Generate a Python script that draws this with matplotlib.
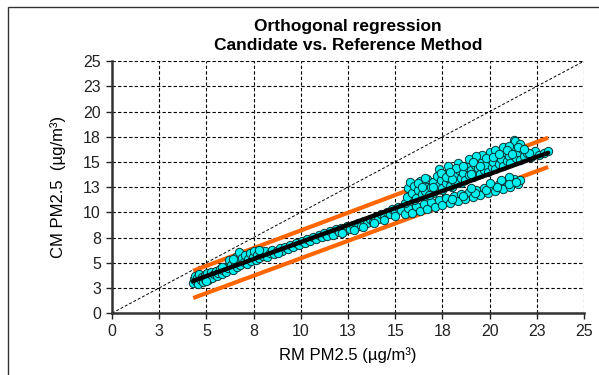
# -*- coding: utf-8 -*-
# Orthogonal regression plot: candidate method vs. reference method (PM2.5)

import numpy as np
import matplotlib.pyplot as plt
from matplotlib.patches import Rectangle

# ----------------------------
# Data
# ----------------------------

# low / middle band, along the regression line
band_x = [4.3, 4.35, 4.4, 4.45, 4.5, 4.55, 4.6, 4.7, 4.75, 4.8, 4.9, 4.95, 5.0, 5.05, 5.1, 5.2, 5.25,
          5.3, 5.4, 5.5, 5.55, 5.6, 5.7, 5.8, 5.9, 6.0, 6.05, 6.15, 6.2, 6.3, 6.4, 6.5, 6.55, 6.6,
          6.7, 6.75, 6.8, 6.9, 7.0, 7.05, 7.15, 7.2, 7.3, 7.35, 7.45, 7.5, 7.6, 7.7, 7.8, 7.9, 8.0,
          8.1, 8.2, 8.35, 8.5, 8.6, 8.75, 8.9, 9.0, 9.15, 9.3, 9.45, 9.6, 9.75, 9.9, 10.05, 10.2,
          10.35, 10.5, 10.65, 10.8, 10.95, 11.1, 11.25, 11.4, 11.55, 11.7, 11.85, 12.0, 12.15, 12.3,
          12.45, 12.6, 12.75, 12.9, 13.05, 13.2, 13.35, 13.5, 13.65, 13.8, 13.95, 14.1, 14.25, 14.4,
          14.55, 14.7, 14.85, 15.0, 15.15, 15.3, 12.2, 12.8, 13.3, 13.9, 14.4, 15.0,
          5.0, 5.8, 6.4, 7.8, 8.8]
band_y = [3.0, 3.4, 3.7, 3.2, 3.5, 2.9, 3.9, 3.3, 3.6, 3.1, 3.8, 3.4, 3.6, 4.0, 3.3, 3.7, 4.1,
          3.5, 3.9, 4.2, 3.7, 4.0, 4.4, 3.9, 4.3, 4.6, 4.1, 4.5, 5.3, 4.8, 4.3, 5.0, 5.6, 4.6,
          5.2, 6.1, 4.8, 5.5, 5.1, 5.8, 4.9, 5.4, 6.0, 5.2, 5.6, 6.2, 5.3, 5.8, 5.5, 6.0, 5.7,
          6.2, 5.6, 6.0, 6.3, 5.9, 6.2, 6.5, 6.2, 6.6, 6.4, 6.8, 6.6, 7.0, 6.8, 7.2, 7.0,
          7.4, 7.2, 7.6, 7.4, 7.8, 7.6, 7.9, 7.7, 8.1, 7.8, 8.3, 8.0, 8.4, 8.1,
          8.6, 8.3, 8.7, 8.5, 8.9, 8.6, 9.1, 8.9, 9.3, 9.0, 9.5, 9.3, 9.8, 9.5,
          10.0, 9.8, 10.3, 10.0, 10.5, 10.2, 7.9, 8.2, 8.5, 8.9, 9.2, 9.6,
          3.2, 4.6, 5.4, 6.3, 6.0]

# upper branch (high concentrations)
upper_x = [15.6, 15.7, 15.8, 15.9, 16.0, 16.1, 16.2, 16.3, 16.4, 16.5, 16.6, 16.7, 16.8, 16.9, 17.0,
           17.1, 17.2, 17.3, 17.4, 17.5, 17.6, 17.7, 17.8, 17.9, 18.0, 18.1, 18.2, 18.3, 18.4, 18.5,
           18.6, 18.7, 18.8, 18.9, 19.0, 19.1, 19.2, 19.3, 19.4, 19.5, 19.6, 19.7, 19.8, 19.9, 20.0,
           20.1, 20.2, 20.3, 20.4, 20.5, 20.6, 20.7, 20.8, 20.9, 21.0, 21.1, 21.2, 21.3, 21.4, 21.5,
           21.6, 21.7, 21.8, 22.0, 22.2, 22.4, 22.6, 22.9, 23.1, 20.0, 19.6, 20.3, 17.3, 17.8, 18.3,
           18.9, 19.3, 20.7, 21.35, 21.0, 21.6, 22.1,
           16.2, 16.6, 17.0, 17.4, 17.7, 18.0, 18.2, 18.6, 19.0, 19.1, 19.5, 19.8, 20.2, 20.5, 20.9,
           21.2, 21.5, 21.8, 17.9, 16.4]
upper_y = [11.5, 12.4, 13.0, 11.9, 12.6, 11.4, 12.2, 13.1, 11.8, 12.7, 12.1, 13.3, 11.7, 12.5, 13.0,
           12.2, 13.6, 12.7, 13.2, 12.4, 13.8, 12.9, 13.4, 12.6, 14.0, 13.1, 13.7, 12.9, 14.2, 13.4,
           13.9, 13.2, 14.5, 13.7, 14.2, 13.5, 14.7, 13.9, 14.4, 13.8, 15.0, 14.2, 14.7, 14.0, 15.3,
           14.5, 15.0, 14.3, 15.6, 14.8, 15.3, 14.6, 16.0, 15.1, 15.6, 14.9, 16.4, 17.2, 15.4, 16.0,
           15.2, 16.3, 15.6, 15.9, 15.5, 16.1, 15.7, 15.9, 16.1, 16.0, 15.7, 16.2, 14.3, 14.6, 14.9,
           15.3, 15.6, 16.5, 17.1, 16.6, 16.8, 15.9,
           12.9, 13.4, 12.5, 13.9, 13.5, 13.3, 14.4, 14.6, 13.8, 15.0, 14.6, 15.4, 15.5, 15.8, 16.2,
           15.8, 16.5, 16.3, 14.0, 12.5]

# lower branch (high concentrations)
lower_x = [15.5, 15.7, 15.9, 16.1, 16.3, 16.5, 16.7, 16.9, 17.1, 17.3, 17.5, 17.7, 17.9, 18.1, 18.3,
           18.5, 18.7, 18.9, 19.1, 19.3, 19.5, 19.7, 19.9, 20.1, 20.3, 20.5, 20.7, 20.9, 21.1, 21.3,
           21.5, 21.6, 21.0, 20.6, 15.5, 16.0, 16.5, 17.0, 17.5, 18.0, 18.5,
           18.0, 18.6, 19.2, 19.8, 20.4, 21.0, 21.4, 19.0, 20.0]
lower_y = [9.8, 10.4, 9.9, 10.6, 10.1, 10.8, 10.3, 11.0, 10.5, 11.2, 10.7, 11.4, 10.9, 11.6, 11.1,
           11.8, 11.3, 12.0, 11.5, 12.2, 11.7, 12.4, 11.9, 12.6, 12.1, 12.8, 12.3, 13.0, 12.5, 13.3,
           12.8, 13.2, 13.5, 13.2, 10.9, 11.2, 11.6, 11.9, 12.2, 12.5, 12.9,
           11.3, 11.6, 11.9, 12.2, 12.5, 12.8, 13.0, 12.4, 12.9]

# regression line and its bounds (end points)
fit_x = [4.3, 23.1]
fit_y = [3.2, 15.9]
upper_bound_y = [4.2, 17.4]
lower_bound_y = [1.5, 14.5]

# axes
ticks = [0, 2.5, 5, 7.5, 10, 12.5, 15, 17.5, 20, 22.5, 25]
tick_labels = ["0", "3", "5", "8", "10", "13", "15", "18", "20", "23", "25"]

# ----------------------------
# Plot
# ----------------------------

plt.rcParams['font.family'] = ['Liberation Sans', 'DejaVu Sans']

fig = plt.figure(figsize=(5.99, 3.75), dpi=100)
ax = fig.add_axes([0.187, 0.165, 0.788, 0.672])

# outer frame (cut off at right and bottom)
fig.patches.append(Rectangle((8 / 599, -0.1), 1.0, 1.1 - 7 / 375, transform=fig.transFigure,
                             fill=False, edgecolor='#333333', linewidth=1.0))

ax.set_xlim(0, 25)
ax.set_ylim(0, 25)
ax.set_xticks(ticks)
ax.set_xticklabels(tick_labels)
ax.set_yticks(ticks)
ax.set_yticklabels(tick_labels)
ax.grid(True, color='black', linestyle=(0, (3, 2)), linewidth=0.8, zorder=0)
ax.set_axisbelow(True)

for side in ['top', 'right']:
    ax.spines[side].set_visible(False)
for side in ['left', 'bottom']:
    ax.spines[side].set_linewidth(1.8)
    ax.spines[side].set_color('#333333')
ax.tick_params(direction='out', length=4, width=1, labelsize=11.5, colors='#222222')
ax.tick_params(axis='x', pad=4)
ax.tick_params(axis='y', pad=4)

# 1:1 line
ax.plot([0, 25], [0, 25], color='black', linestyle=(0, (3, 2)), linewidth=0.7, zorder=1)

# bounds
ax.plot(fit_x, upper_bound_y, color='#FF6600', linewidth=3, solid_capstyle='butt', zorder=2)
ax.plot(fit_x, lower_bound_y, color='#FF6600', linewidth=3, solid_capstyle='butt', zorder=2)

# data
for xs, ys in [(band_x, band_y), (lower_x, lower_y), (upper_x, upper_y)]:
    ax.scatter(xs, ys, s=36, facecolor='#00F0F0', edgecolor='#0b3535', linewidth=0.7, zorder=3)

# regression line
ax.plot(fit_x, fit_y, color='black', linewidth=3.2, solid_capstyle='round', zorder=4)

ax.set_title("Orthogonal regression\nCandidate vs. Reference Method", fontsize=12.5,
             fontweight='bold', pad=8, linespacing=1.3)
ax.set_xlabel("RM PM2.5 (µg/m³)", fontsize=12, labelpad=6)
ax.set_ylabel("CM PM2.5  (µg/m³)", fontsize=12, labelpad=12)

fig.savefig("out.png", dpi=100)
plt.close(fig)
